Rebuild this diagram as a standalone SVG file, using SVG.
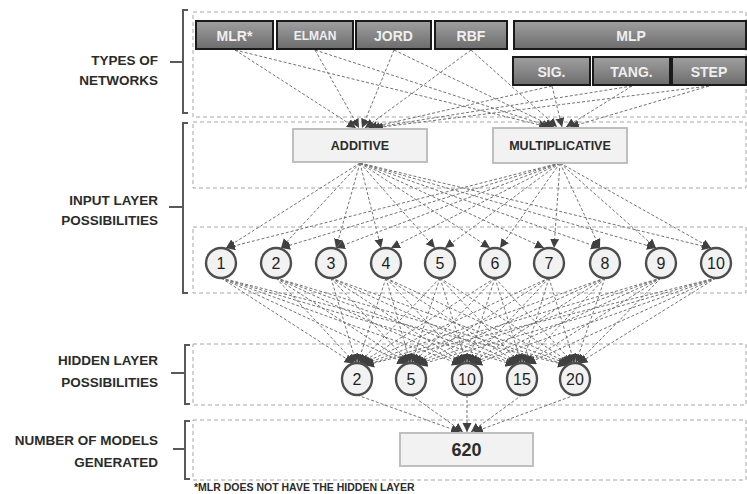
<svg xmlns="http://www.w3.org/2000/svg" width="747" height="494" viewBox="0 0 747 494">
<defs>
<linearGradient id="g" x1="0" y1="0" x2="0" y2="1">
<stop offset="0" stop-color="#a0a0a0"/>
<stop offset="1" stop-color="#6c6c6c"/>
</linearGradient>
<marker id="ah" markerUnits="userSpaceOnUse" markerWidth="10" markerHeight="10" refX="9" refY="4.5" orient="auto">
<path d="M0,0 L9,4.5 L0,9 z" fill="#404040"/>
</marker>
<style>
.panel{fill:none;stroke:#a6a6a6;stroke-width:1;stroke-dasharray:4 3}
.brk{fill:none;stroke:#595959;stroke-width:2}
.lbl{font-family:"Liberation Sans",Arial,sans-serif;font-weight:bold;font-size:13.5px;fill:#2b2b2b;text-anchor:end}
.net rect{fill:url(#g);stroke:#1a1a1a;stroke-width:2}
.net text{font-family:"Liberation Sans",Arial,sans-serif;font-weight:bold;font-size:14px;fill:#efefef;text-anchor:middle}
.op rect{fill:#f2f2f2;stroke:#bfbfbf;stroke-width:2}
.op text{font-family:"Liberation Sans",Arial,sans-serif;font-weight:bold;font-size:12.5px;fill:#2b2b2b;text-anchor:middle}
.num circle,.num ellipse{fill:#f2f2f2;stroke:#4d4d4d;stroke-width:2.4}
.num text{font-family:"Liberation Sans",Arial,sans-serif;font-size:16px;fill:#1f1f1f;text-anchor:middle}
#connectors line{stroke:#737373;stroke-width:1;stroke-dasharray:3 2;marker-end:url(#ah)}
.foot{font-family:"Liberation Sans",Arial,sans-serif;font-weight:bold;font-size:10.5px;fill:#2b2b2b}
</style>
</defs>
<rect width="747" height="494" fill="#ffffff"/>

<g id="panels">
<rect class="panel" x="193" y="12" width="553" height="105"/>
<rect class="panel" x="193" y="122" width="553" height="66"/>
<rect class="panel" x="193" y="227" width="553" height="66"/>
<rect class="panel" x="193" y="344" width="553" height="61"/>
<rect class="panel" x="193" y="420" width="553" height="60"/>
</g>

<g id="brackets">
<path class="brk" d="M188,10 H183 V113 H188 M170,62 H183"/>
<path class="brk" d="M188,123 H183 V293 H188 M169,207 H183"/>
<path class="brk" d="M190,345 H185 V404 H190 M171,373 H185"/>
<path class="brk" d="M190,421 H185 V479 H190 M173,449 H185"/>
</g>

<g id="labels">
<text class="lbl" x="158" y="65">TYPES OF</text>
<text class="lbl" x="158" y="85">NETWORKS</text>
<text class="lbl" x="158" y="205">INPUT LAYER</text>
<text class="lbl" x="158" y="225">POSSIBILITIES</text>
<text class="lbl" x="158" y="365">HIDDEN LAYER</text>
<text class="lbl" x="158" y="387">POSSIBILITIES</text>
<text class="lbl" x="158" y="445">NUMBER OF MODELS</text>
<text class="lbl" x="158" y="467">GENERATED</text>
<text class="foot" x="194" y="491">*MLR DOES NOT HAVE THE HIDDEN LAYER</text>
</g>

<g id="connectors">
<line x1="235" y1="50" x2="356" y2="128"/>
<line x1="315" y1="50" x2="359" y2="128"/>
<line x1="394" y1="50" x2="362" y2="128"/>
<line x1="471" y1="50" x2="365" y2="128"/>
<line x1="552" y1="86" x2="368" y2="128"/>
<line x1="632" y1="86" x2="371" y2="128"/>
<line x1="709" y1="86" x2="374" y2="128"/>
<line x1="235" y1="50" x2="548" y2="127"/>
<line x1="315" y1="50" x2="551" y2="127"/>
<line x1="394" y1="50" x2="554" y2="127"/>
<line x1="471" y1="50" x2="557" y2="127"/>
<line x1="552" y1="86" x2="562" y2="127"/>
<line x1="632" y1="86" x2="566" y2="127"/>
<line x1="709" y1="86" x2="570" y2="127"/>

<line x1="360" y1="163" x2="226" y2="248"/>
<line x1="360" y1="163" x2="281" y2="248"/>
<line x1="360" y1="163" x2="336" y2="248"/>
<line x1="360" y1="163" x2="381" y2="248"/>
<line x1="360" y1="163" x2="435" y2="248"/>
<line x1="360" y1="163" x2="490" y2="248"/>
<line x1="360" y1="163" x2="544" y2="248"/>
<line x1="360" y1="163" x2="600" y2="248"/>
<line x1="360" y1="163" x2="656" y2="248"/>
<line x1="360" y1="163" x2="711" y2="248"/>
<line x1="560" y1="163" x2="226" y2="248"/>
<line x1="560" y1="163" x2="281" y2="248"/>
<line x1="560" y1="163" x2="336" y2="248"/>
<line x1="560" y1="163" x2="391" y2="248"/>
<line x1="560" y1="163" x2="445" y2="248"/>
<line x1="560" y1="163" x2="500" y2="248"/>
<line x1="560" y1="163" x2="554" y2="248"/>
<line x1="560" y1="163" x2="600" y2="248"/>
<line x1="560" y1="163" x2="656" y2="248"/>
<line x1="560" y1="163" x2="711" y2="248"/>

<line x1="221" y1="278" x2="353.6" y2="363.4"/>
<line x1="276" y1="278" x2="355" y2="363.1"/>
<line x1="331" y1="278" x2="356.3" y2="363"/>
<line x1="386" y1="278" x2="357.7" y2="363"/>
<line x1="440" y1="278" x2="359.1" y2="363.2"/>
<line x1="495" y1="278" x2="360.5" y2="363.4"/>
<line x1="549" y1="278" x2="361.8" y2="363.8"/>
<line x1="605" y1="278" x2="363.2" y2="364.4"/>
<line x1="661" y1="278" x2="364.6" y2="365.1"/>
<line x1="716" y1="278" x2="365" y2="365.3"/>

<line x1="221" y1="278" x2="406.3" y2="363.8"/>
<line x1="276" y1="278" x2="407.6" y2="363.4"/>
<line x1="331" y1="278" x2="409" y2="363.1"/>
<line x1="386" y1="278" x2="410.4" y2="363"/>
<line x1="440" y1="278" x2="411.7" y2="363"/>
<line x1="495" y1="278" x2="413.1" y2="363.2"/>
<line x1="549" y1="278" x2="414.5" y2="363.4"/>
<line x1="605" y1="278" x2="415.9" y2="363.8"/>
<line x1="661" y1="278" x2="417.3" y2="364.4"/>
<line x1="716" y1="278" x2="418.6" y2="365.1"/>

<line x1="221" y1="278" x2="460.9" y2="364.4"/>
<line x1="276" y1="278" x2="462.2" y2="363.8"/>
<line x1="331" y1="278" x2="463.6" y2="363.4"/>
<line x1="386" y1="278" x2="465" y2="363.1"/>
<line x1="440" y1="278" x2="466.3" y2="363"/>
<line x1="495" y1="278" x2="467.7" y2="363"/>
<line x1="549" y1="278" x2="469.1" y2="363.2"/>
<line x1="605" y1="278" x2="470.5" y2="363.4"/>
<line x1="661" y1="278" x2="471.9" y2="363.8"/>
<line x1="716" y1="278" x2="473.2" y2="364.4"/>

<line x1="221" y1="278" x2="514.5" y2="365"/>
<line x1="276" y1="278" x2="515.9" y2="364.4"/>
<line x1="331" y1="278" x2="517.2" y2="363.8"/>
<line x1="386" y1="278" x2="518.6" y2="363.4"/>
<line x1="440" y1="278" x2="520" y2="363.2"/>
<line x1="495" y1="278" x2="521.3" y2="363"/>
<line x1="549" y1="278" x2="522.7" y2="363"/>
<line x1="605" y1="278" x2="524.1" y2="363.2"/>
<line x1="661" y1="278" x2="525.5" y2="363.4"/>
<line x1="716" y1="278" x2="526.9" y2="363.8"/>

<line x1="221" y1="278" x2="567" y2="365.3"/>
<line x1="276" y1="278" x2="567.5" y2="365"/>
<line x1="331" y1="278" x2="568.9" y2="364.3"/>
<line x1="386" y1="278" x2="570.3" y2="363.8"/>
<line x1="440" y1="278" x2="571.6" y2="363.4"/>
<line x1="495" y1="278" x2="573" y2="363.1"/>
<line x1="549" y1="278" x2="574.4" y2="363"/>
<line x1="605" y1="278" x2="575.8" y2="363"/>
<line x1="661" y1="278" x2="577.2" y2="363.2"/>
<line x1="716" y1="278" x2="578.5" y2="363.4"/>

<line x1="357" y1="395" x2="460" y2="432"/>
<line x1="411" y1="395" x2="463" y2="432"/>
<line x1="467" y1="395" x2="467" y2="432"/>
<line x1="522" y1="395" x2="471" y2="432"/>
<line x1="575" y1="395" x2="474" y2="432"/>
</g>

<g id="n-mlr" class="net"><rect x="196" y="21" width="77" height="28"/><text x="234.5" y="40.5">MLR*</text></g>
<g id="n-elman" class="net"><rect x="277" y="21" width="76" height="28"/><text x="315" y="40" style="font-size:12px">ELMAN</text></g>
<g id="n-jord" class="net"><rect x="356" y="21" width="75" height="28"/><text x="393.5" y="40.5">JORD</text></g>
<g id="n-rbf" class="net"><rect x="435" y="21" width="72" height="28"/><text x="471" y="40.5">RBF</text></g>
<g id="n-mlp" class="net"><rect x="514" y="21" width="232" height="28"/><text x="631" y="40.5">MLP</text></g>
<g id="n-sig" class="net"><rect x="513" y="57" width="77" height="28"/><text x="551.5" y="76.5">SIG.</text></g>
<g id="n-tang" class="net"><rect x="593" y="57" width="77" height="28"/><text x="631.5" y="76.5">TANG.</text></g>
<g id="n-step" class="net"><rect x="672" y="57" width="74" height="28"/><text x="709" y="76.5">STEP</text></g>

<g id="n-additive" class="op"><rect x="293" y="129" width="134" height="33"/><text x="360" y="150">ADDITIVE</text></g>
<g id="n-multiplicative" class="op"><rect x="493" y="128" width="134" height="35"/><text x="560" y="150">MULTIPLICATIVE</text></g>

<g id="n-in1" class="num"><circle cx="221" cy="263" r="15"/><text x="221" y="268.5">1</text></g>
<g id="n-in2" class="num"><circle cx="276" cy="263" r="15"/><text x="276" y="268.5">2</text></g>
<g id="n-in3" class="num"><circle cx="331" cy="263" r="15"/><text x="331" y="268.5">3</text></g>
<g id="n-in4" class="num"><circle cx="386" cy="263" r="15"/><text x="386" y="268.5">4</text></g>
<g id="n-in5" class="num"><circle cx="440" cy="263" r="15"/><text x="440" y="268.5">5</text></g>
<g id="n-in6" class="num"><circle cx="495" cy="263" r="15"/><text x="495" y="268.5">6</text></g>
<g id="n-in7" class="num"><circle cx="549" cy="263" r="15"/><text x="549" y="268.5">7</text></g>
<g id="n-in8" class="num"><circle cx="605" cy="263" r="15"/><text x="605" y="268.5">8</text></g>
<g id="n-in9" class="num"><circle cx="661" cy="263" r="15"/><text x="661" y="268.5">9</text></g>
<g id="n-in10" class="num"><circle cx="716" cy="263" r="15"/><text x="716" y="268.5">10</text></g>

<g id="n-h2" class="num"><ellipse cx="357" cy="379" rx="15" ry="16"/><text x="357" y="384.5">2</text></g>
<g id="n-h5" class="num"><ellipse cx="411" cy="379" rx="15" ry="16"/><text x="411" y="384.5">5</text></g>
<g id="n-h10" class="num"><ellipse cx="467" cy="379" rx="15" ry="16"/><text x="467" y="384.5">10</text></g>
<g id="n-h15" class="num"><ellipse cx="522" cy="379" rx="15" ry="16"/><text x="522" y="384.5">15</text></g>
<g id="n-h20" class="num"><ellipse cx="575" cy="379" rx="15" ry="16"/><text x="575" y="384.5">20</text></g>

<g id="n-620" class="op"><rect x="400" y="433" width="133" height="33"/><text x="466.5" y="456" style="font-size:18px">620</text></g>
</svg>
